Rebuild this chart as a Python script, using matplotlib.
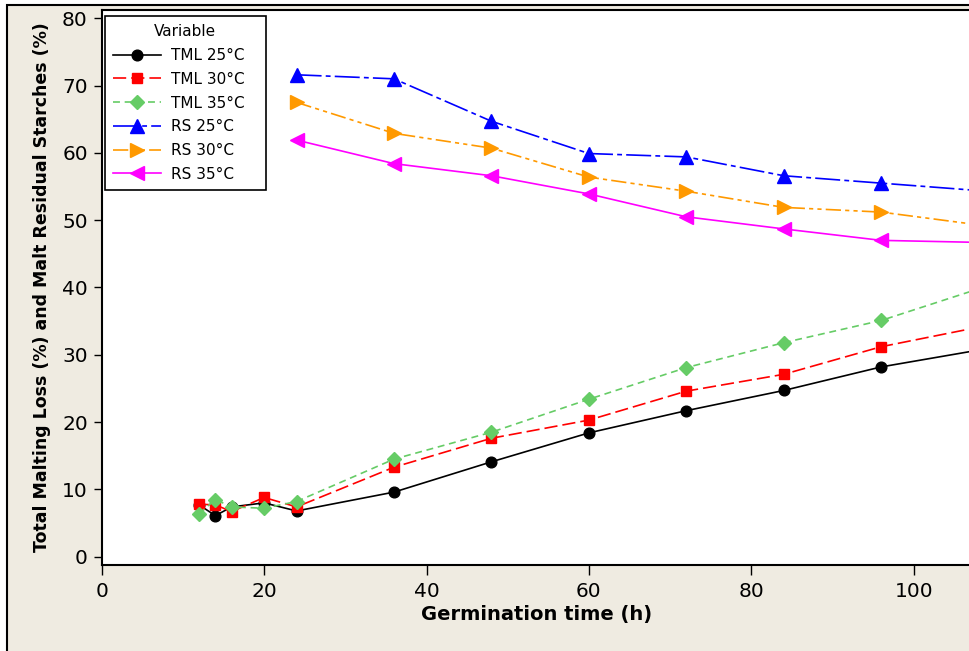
import matplotlib
matplotlib.use("Agg")
import matplotlib.pyplot as plt
from matplotlib.patches import Rectangle

# Data (germination time in hours, values in %)
time_tml = [12, 14, 16, 20, 24, 36, 48, 60, 72, 84, 96, 108]
tml_25 = [7.7, 6.1, 7.4, 8.0, 6.8, 9.6, 14.1, 18.4, 21.7, 24.7, 28.2, 30.7]
tml_30 = [7.8, 7.7, 6.7, 8.8, 7.4, 13.3, 17.6, 20.3, 24.6, 27.1, 31.2, 34.1]
tml_35 = [6.4, 8.5, 7.4, 7.2, 8.2, 14.5, 18.5, 23.4, 28.1, 31.8, 35.1, 39.8]

time_rs = [24, 36, 48, 60, 72, 84, 96, 108]
rs_25 = [71.6, 71.0, 64.7, 59.9, 59.4, 56.6, 55.5, 54.4]
rs_30 = [67.5, 62.9, 60.7, 56.4, 54.3, 51.9, 51.2, 49.3]
rs_35 = [61.9, 58.4, 56.6, 53.9, 50.5, 48.7, 47.0, 46.7]

x_ticks = [0, 20, 40, 60, 80, 100]
y_ticks = [0, 10, 20, 30, 40, 50, 60, 70, 80]

plt.rcParams['font.family'] = 'DejaVu Sans'
plt.rcParams['lines.scale_dashes'] = False

fig = plt.figure(figsize=(9.69, 6.51), dpi=100, facecolor='white')

# beige panel with black frame (runs off the right/bottom edge)
panel = Rectangle((7 / 969, -0.2), 2.0, 0.2 + 646 / 651,
                  transform=fig.transFigure, facecolor='#efebe1',
                  edgecolor='black', linewidth=1.5, zorder=-10)
fig.add_artist(panel)

ax = fig.add_axes([101.7 / 969, 86 / 651, 1015 / 969, 555.5 / 651])
ax.set_zorder(5)
ax.set_facecolor('white')

lw = 1.2
ax.plot(time_tml, tml_25, color='black', lw=lw, marker='o', ms=7.7,
        label='TML 25°C')
ax.plot(time_tml, tml_30, color='#ff0000', lw=lw, marker='s', ms=7.5,
        dashes=(9.5, 3.6), label='TML 30°C')
ax.plot(time_tml, tml_35, color='#66cc66', lw=lw, marker='D', ms=6.8,
        dashes=(5, 3.4), label='TML 35°C')
ax.plot(time_rs, rs_25, color='#0000ff', lw=lw, marker='^', ms=9.5,
        dashes=(18, 3, 3.5, 3), label='RS 25°C')
ax.plot(time_rs, rs_30, color='#ff9900', lw=lw, marker='>', ms=9.5,
        dashes=(11, 3, 3, 3, 3, 3), label='RS 30°C')
ax.plot(time_rs, rs_35, color='#ff00ff', lw=lw, marker='<', ms=9.5,
        label='RS 35°C')

ax.set_xlim(0, 125)
ax.set_ylim(-1.23, 81.3)
ax.set_xticks(x_ticks)
ax.set_yticks(y_ticks)

for s in ax.spines.values():
    s.set_linewidth(1.5)
ax.tick_params(axis='both', direction='out', width=1, labelsize=14.5,
               colors='black')
ax.tick_params(axis='y', length=6, pad=4)
ax.tick_params(axis='x', length=7, pad=5)

ax.set_xlabel('Germination time (h)', fontsize=14, fontweight='bold')
ax.set_ylabel('Total Malting Loss (%) and Malt Residual Starches (%)',
              fontsize=12.5, fontweight='bold')
ax.xaxis.set_label_coords(0.4287, -0.072)
ax.yaxis.set_label_coords(-0.050, 0.5)

leg = ax.legend(title='Variable', loc='upper left',
                bbox_to_anchor=(0.0032, 0.5, 0.1586, 0.4883), mode='expand',
                borderaxespad=0, fontsize=11, title_fontsize=11,
                fancybox=False, edgecolor='black', framealpha=1,
                handlelength=3.1, handletextpad=0.65, labelspacing=0.57,
                borderpad=0.55)
leg.get_frame().set_linewidth(1.2)

fig.savefig('out.png', dpi=100, facecolor=fig.get_facecolor())
